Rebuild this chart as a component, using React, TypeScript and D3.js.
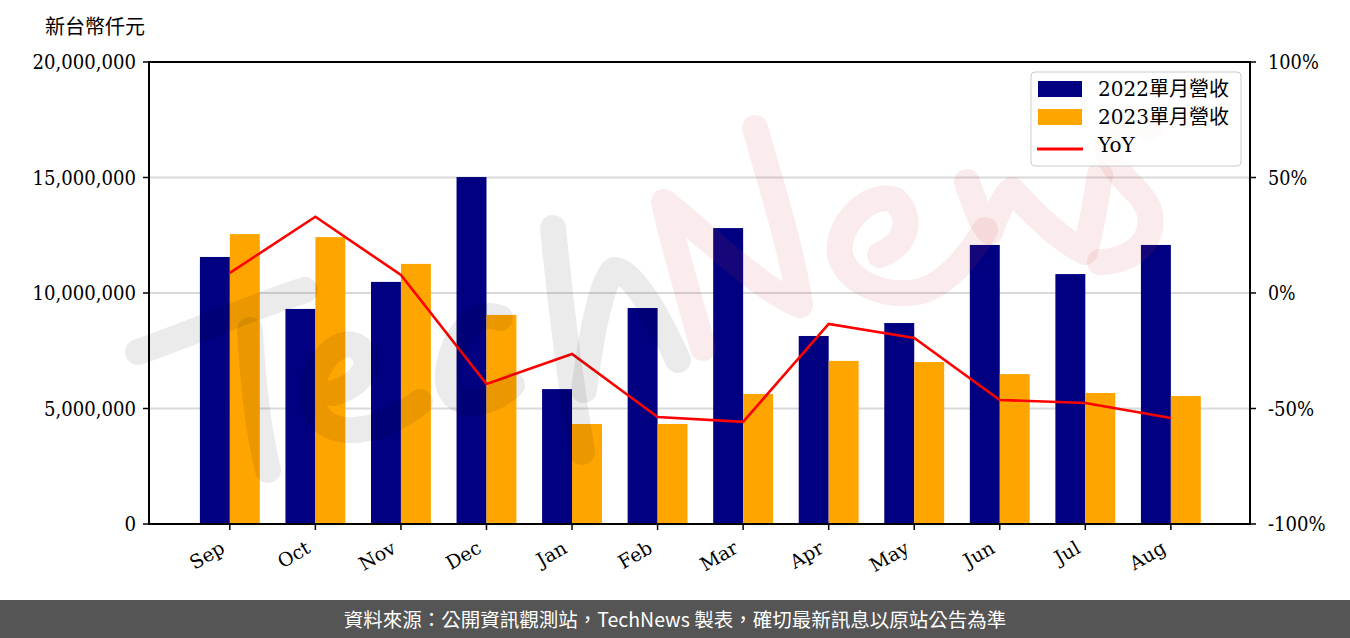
import React from "react";
import * as d3 from "d3";

const months = ["Sep", "Oct", "Nov", "Dec", "Jan", "Feb", "Mar", "Apr", "May", "Jun", "Jul", "Aug"];
const rev2022 = [11560000, 9310000, 10480000, 15020000, 5840000, 9350000, 12810000, 8140000, 8700000, 12080000, 10820000, 12080000];
const rev2023 = [12550000, 12420000, 11260000, 9050000, 4330000, 4330000, 5630000, 7060000, 7010000, 6490000, 5670000, 5540000];
const yoy = [8.7, 33.0, 7.8, -39.4, -26.4, -53.7, -55.8, -13.4, -19.5, -46.3, -47.6, -54.1];
const leftTicks = [0, 5000000, 10000000, 15000000, 20000000];
const rightTicks = [-100, -50, 0, 50, 100];
const legendItems = ["2022單月營收", "2023單月營收", "YoY"];

const W = 1350, H = 638;
const L = 149, R = 1250, T = 62, B = 524;
const serif = "'DejaVu Serif', 'Liberation Serif', 'Noto Sans CJK TC', serif";

// approximate rendered width of a numeric label in the reference's typeface
function labelWidth(s: string) {
  let w = 0;
  for (const c of s) {
    if (c >= "0" && c <= "9") w += 11.6;
    else if (c === ",") w += 5.4;
    else if (c === "%") w += 16;
    else if (c === "-") w += 7;
    else w += 10;
  }
  return w;
}

// watermark brush strokes (decorative)
const techStrokes = [
  "M138,352 C200,330 255,306 305,290",
  "M250,330 C253,385 258,430 268,470",
  "M333,393 C362,386 378,360 356,346 C330,336 302,382 316,412 C332,442 382,432 420,402",
  "M500,318 C470,306 446,350 448,382 C452,410 488,408 512,385",
  "M553,228 C560,300 570,380 582,452",
  "M584,390 C592,330 602,280 614,270 C632,268 660,320 678,360",
];
const newsStrokes = [
  "M703,348 C690,300 672,240 664,202 C700,230 760,290 800,305 C792,250 770,180 755,128",
  "M880,255 C905,245 915,220 895,200 C870,190 835,225 840,255 C848,285 890,300 925,290 C950,280 970,255 985,230",
  "M967,182 C975,205 982,225 990,232 C998,210 1005,195 1012,190 C1030,210 1060,240 1085,252 C1092,225 1097,195 1100,175",
  "M1150,128 C1120,118 1098,140 1112,162 C1128,190 1160,200 1148,235 C1138,258 1110,262 1100,262",
];

export default function App() {
  const bw = 0.35;
  const x = d3.scaleLinear().domain([-0.945, 11.925]).range([L, R]);
  const y = d3.scaleLinear().domain([0, 20000000]).range([B, T]);
  const y2 = d3.scaleLinear().domain([-100, 100]).range([B, T]);
  const fmt = d3.format(",");
  const line = d3.line<number>().x((_, i) => x(i)).y((d) => y2(d));
  const pxw = x(bw) - x(0);

  return (
    <svg width={W} height={H} style={{ position: "absolute", left: 0, top: 0, background: "#fff" }}>
      <rect x={0} y={0} width={W} height={H} fill="#fff" />
      {leftTicks.filter((t) => t > 0 && t < 20000000).map((t) => (
        <line key={t} x1={L} x2={R} y1={y(t)} y2={y(t)} stroke="#d9d9d9" strokeWidth={2} />
      ))}
      {rev2022.map((v, i) => (
        <rect key={"a" + i} x={x(i - bw / 2) - pxw / 2} y={y(v)} width={pxw} height={y(0) - y(v)} fill="#000080" />
      ))}
      {rev2023.map((v, i) => (
        <rect key={"b" + i} x={x(i + bw / 2) - pxw / 2} y={y(v)} width={pxw} height={y(0) - y(v)} fill="#FFA500" />
      ))}
      <path d={line(yoy) || ""} fill="none" stroke="#ff0000" strokeWidth={2.6} />
      <g fill="none" strokeLinecap="round" strokeLinejoin="round">
        <g stroke="#000" strokeOpacity={0.08} strokeWidth={26}>
          {techStrokes.map((d, i) => <path key={i} d={d} />)}
        </g>
        <g stroke="#d23c46" strokeOpacity={0.1} strokeWidth={26}>
          {newsStrokes.map((d, i) => <path key={i} d={d} />)}
        </g>
      </g>
      <rect x={L} y={T} width={R - L} height={B - T} fill="none" stroke="#000" strokeWidth={2} />
      {leftTicks.map((t) => {
        const s = fmt(t);
        const w = labelWidth(s);
        return (
          <g key={"l" + t}>
            <line x1={L - 6} x2={L} y1={y(t)} y2={y(t)} stroke="#000" strokeWidth={1.5} />
            <text x={L - 13 - w} y={y(t)} dy="0.35em" textLength={w} lengthAdjust="spacingAndGlyphs" fontSize={20} fontFamily={serif} fill="#000">{s}</text>
          </g>
        );
      })}
      {rightTicks.map((t) => {
        const s = t + "%";
        const w = labelWidth(s);
        return (
          <g key={"r" + t}>
            <line x1={R} x2={R + 6} y1={y2(t)} y2={y2(t)} stroke="#000" strokeWidth={1.5} />
            <text x={R + 18} y={y2(t)} dy="0.35em" textLength={w} lengthAdjust="spacingAndGlyphs" fontSize={20} fontFamily={serif} fill="#000">{s}</text>
          </g>
        );
      })}
      {months.map((m, i) => (
        <g key={m}>
          <line x1={x(i)} x2={x(i)} y1={B} y2={B + 6} stroke="#000" strokeWidth={1.5} />
          <text transform={`translate(${x(i) - 7},${B + 22}) rotate(-30)`} textAnchor="end" fontSize={19} fontFamily={serif} fill="#000" dy="0.35em">{m}</text>
        </g>
      ))}
      <text x={45} y={34} fontSize={20} fontFamily={serif} fill="#000">新台幣仟元</text>
      <rect x={1031} y={72} width={210} height={94} rx={4} fill="#fff" fillOpacity={0.8} stroke="#ccc" strokeWidth={1} />
      <rect x={1038} y={81} width={44} height={16} fill="#000080" />
      <rect x={1038} y={109} width={44} height={16} fill="#FFA500" />
      <line x1={1037} x2={1083} y1={149} y2={149} stroke="#ff0000" strokeWidth={3} />
      {legendItems.map((s, i) => (
        <text key={s} x={1098} y={89 + i * 28} dy="0.35em" fontSize={20} fontFamily={serif} fill="#000">{s}</text>
      ))}
      <rect x={0} y={600} width={W} height={38} fill="#555555" />
      <text x={W / 2} y={620} dy="0.35em" textAnchor="middle" fontSize={19.5} fontFamily="'Noto Sans CJK TC', 'Noto Sans', sans-serif" fill="#fff">資料來源：公開資訊觀測站，TechNews 製表，確切最新訊息以原站公告為準</text>
    </svg>
  );
}
